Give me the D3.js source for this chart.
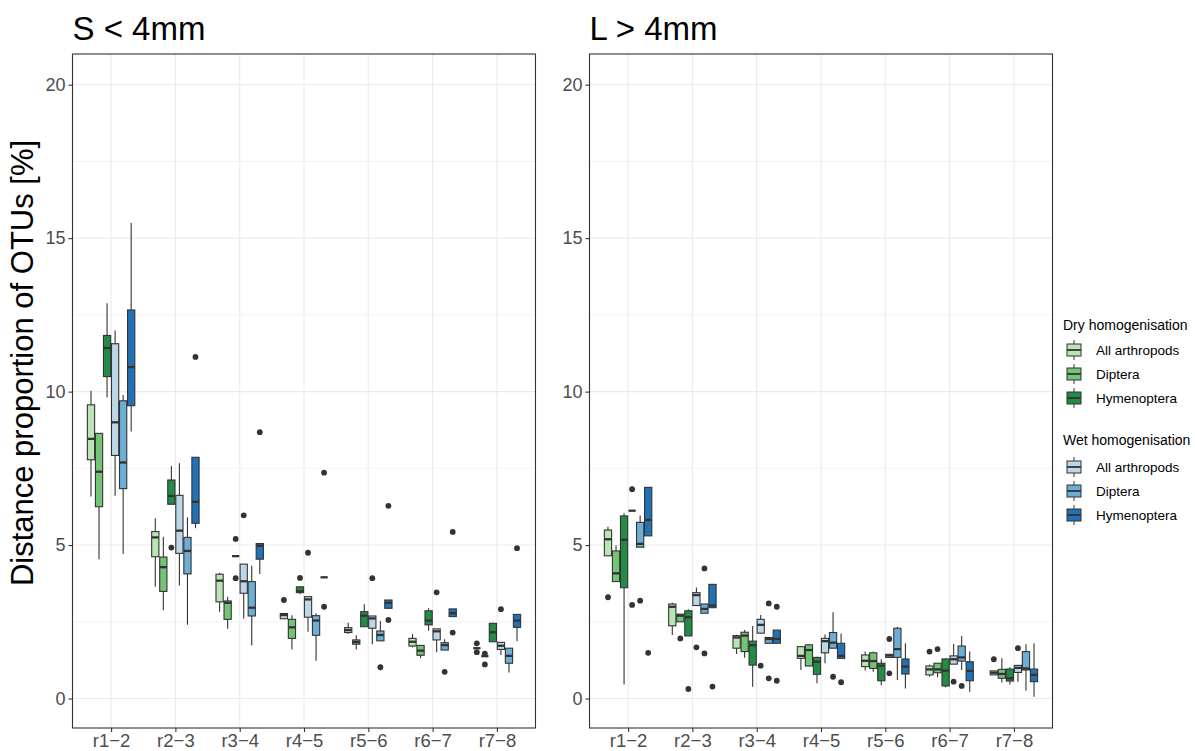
<!DOCTYPE html>
<html lang="en">
<head>
<meta charset="UTF-8">
<title>Distance proportion of OTUs</title>
<script src="https://cdn.jsdelivr.net/npm/d3@7"></script>
<style>
  body { margin: 0; background: #fff; }
  svg { display: block; font-family: 'Liberation Sans', Arial, Helvetica, sans-serif; }
</style>
</head>
<body>
<script>
// categories and groups
const ranges = ['r1−2', 'r2−3', 'r3−4', 'r4−5', 'r5−6', 'r6−7', 'r7−8'];
const groups = ['dryAll', 'dryDip', 'dryHym', 'wetAll', 'wetDip', 'wetHym'];
const groupLabels = ['All arthropods', 'Diptera', 'Hymenoptera', 'All arthropods', 'Diptera', 'Hymenoptera'];
const groupColors = ['#bae4b3', '#74c476', '#238b45', '#bdd7e7', '#6baed6', '#2171b5'];
const legendTitles = ['Dry homogenisation', 'Wet homogenisation'];
const panelTitles = ['S < 4mm', 'L > 4mm'];
const yTicks = [0, 5, 10, 15, 20];
const yMinor = [2.5, 7.5, 12.5, 17.5];

// box stats per range: [lower whisker, q1, median, q3, upper whisker]
// S < 4mm
const smallDryAll = [[6.58, 7.78, 8.46, 9.57, 10.03], [3.64, 4.62, 5.25, 5.44, 5.87], [2.83, 3.15, 3.84, 4.05, 4.10], [2.60, 2.60, 2.72, 2.77, 2.77], [2.10, 2.15, 2.23, 2.31, 2.47], [1.67, 1.71, 1.85, 1.96, 2.10], [1.64, 1.64, 1.64, 1.64, 1.64]];
const smallDryDip = [[4.54, 6.25, 7.39, 8.64, 8.64], [2.88, 3.49, 4.28, 4.61, 5.27], [2.27, 2.58, 3.12, 3.18, 3.32], [1.60, 1.96, 2.32, 2.58, 2.71], [1.60, 1.77, 1.84, 1.91, 2.06], [1.31, 1.41, 1.56, 1.73, 1.73], [1.38, 1.38, 1.38, 1.38, 1.38]];
const smallDryHym = [[9.82, 10.49, 11.42, 11.83, 12.88], [6.33, 6.33, 6.60, 7.12, 7.58], [4.64, 4.64, 4.64, 4.64, 4.64], [3.40, 3.45, 3.50, 3.64, 3.64], [2.34, 2.34, 2.70, 2.83, 3.07], [2.21, 2.40, 2.54, 2.86, 2.94], [1.85, 1.85, 2.16, 2.45, 2.47]];
const smallWetAll = [[6.61, 7.92, 9.00, 11.56, 11.99], [3.68, 4.73, 5.47, 6.62, 7.67], [2.61, 3.43, 3.82, 4.38, 4.38], [2.18, 2.65, 3.23, 3.32, 3.32], [1.77, 2.29, 2.61, 2.69, 2.69], [1.51, 1.91, 2.19, 2.27, 2.27], [1.42, 1.60, 1.72, 1.83, 1.83]];
const smallWetDip = [[4.71, 6.84, 7.69, 9.70, 9.89], [2.40, 4.06, 4.81, 5.25, 5.91], [1.73, 2.69, 2.96, 3.81, 4.33], [1.23, 2.06, 2.54, 2.70, 2.78], [1.88, 1.88, 2.07, 2.20, 2.53], [1.58, 1.58, 1.74, 1.82, 1.93], [0.85, 1.15, 1.39, 1.64, 1.64]];
const smallWetHym = [[8.70, 9.54, 10.80, 12.66, 15.49], [5.55, 5.71, 6.41, 7.86, 7.86], [4.06, 4.54, 4.98, 5.05, 5.05], [3.95, 3.95, 3.95, 3.95, 3.95], [2.94, 2.94, 3.12, 3.21, 3.21], [2.67, 2.67, 2.78, 2.92, 2.92], [1.87, 2.32, 2.54, 2.74, 2.74]];
const smallOutliers = [
  ['dryAll', 'r4−5', 3.21], ['dryAll', 'r7−8', 1.80], ['dryAll', 'r7−8', 1.51],
  ['dryDip', 'r7−8', 1.46], ['dryDip', 'r7−8', 1.11],
  ['dryHym', 'r2−3', 4.92], ['dryHym', 'r3−4', 5.20], ['dryHym', 'r3−4', 3.92], ['dryHym', 'r4−5', 3.93],
  ['wetAll', 'r3−4', 5.97], ['wetAll', 'r4−5', 4.75], ['wetAll', 'r5−6', 3.92], ['wetAll', 'r6−7', 3.46], ['wetAll', 'r7−8', 2.91],
  ['wetDip', 'r5−6', 1.02], ['wetDip', 'r6−7', 0.87],
  ['wetHym', 'r2−3', 11.13], ['wetHym', 'r3−4', 8.68], ['wetHym', 'r4−5', 7.36], ['wetHym', 'r4−5', 2.99],
  ['wetHym', 'r5−6', 6.28], ['wetHym', 'r5−6', 2.56], ['wetHym', 'r6−7', 5.43], ['wetHym', 'r6−7', 2.15], ['wetHym', 'r7−8', 4.90]
];

// L > 4mm
const largeDryAll = [[4.65, 4.65, 5.19, 5.49, 5.60], [2.07, 2.37, 2.99, 3.08, 3.12], [1.45, 1.64, 1.99, 2.05, 2.08], [0.93, 1.31, 1.39, 1.69, 1.71], [0.91, 1.04, 1.23, 1.42, 1.53], [0.71, 0.77, 0.95, 1.06, 1.11], [0.77, 0.77, 0.84, 0.90, 0.90]];
const largeDryDip = [[3.81, 3.81, 4.08, 4.81, 4.99], [2.50, 2.50, 2.70, 2.75, 2.75], [1.33, 1.53, 2.05, 2.16, 2.23], [1.06, 1.06, 1.58, 1.75, 1.78], [0.87, 0.98, 1.22, 1.49, 1.53], [0.69, 0.84, 0.95, 1.15, 1.15], [0.52, 0.66, 0.80, 0.95, 1.31]];
const largeDryHym = [[0.46, 3.61, 5.17, 5.95, 6.04], [2.04, 2.04, 2.65, 2.86, 2.91], [0.38, 1.09, 1.74, 1.87, 2.36], [0.50, 0.79, 1.20, 1.34, 1.36], [0.43, 0.58, 1.07, 1.15, 1.28], [0.37, 0.41, 0.91, 1.29, 1.31], [0.46, 0.57, 0.66, 0.96, 1.02]];
const largeWetAll = [[6.12, 6.12, 6.12, 6.12, 6.12], [3.03, 3.03, 3.37, 3.45, 3.62], [2.13, 2.13, 2.40, 2.58, 2.72], [1.15, 1.49, 1.87, 1.96, 2.09], [1.34, 1.34, 1.40, 1.44, 1.44], [1.12, 1.12, 1.28, 1.39, 1.78], [0.55, 0.85, 1.00, 1.08, 1.08]];
const largeWetDip = [[4.93, 4.93, 5.04, 5.74, 5.96], [2.78, 2.78, 2.92, 3.08, 3.08], [1.80, 1.80, 1.94, 1.99, 1.99], [1.64, 1.64, 1.82, 2.15, 2.81], [0.60, 1.34, 1.61, 2.29, 2.34], [0.93, 1.22, 1.34, 1.71, 2.04], [0.25, 0.93, 0.98, 1.53, 1.77]];
const largeWetHym = [[5.30, 5.30, 5.82, 6.88, 6.88], [2.96, 2.96, 3.03, 3.72, 3.72], [1.80, 1.80, 1.94, 2.23, 2.23], [1.31, 1.31, 1.39, 1.80, 2.12], [0.33, 0.80, 1.04, 1.29, 1.80], [0.22, 0.58, 0.90, 1.20, 1.53], [0.06, 0.55, 0.77, 0.96, 1.80]];
const largeOutliers = [
  ['dryAll', 'r1−2', 3.30], ['dryAll', 'r6−7', 1.53], ['dryAll', 'r7−8', 1.28],
  ['dryDip', 'r2−3', 1.96], ['dryDip', 'r6−7', 1.61],
  ['dryHym', 'r2−3', 0.31],
  ['wetAll', 'r1−2', 6.82], ['wetAll', 'r1−2', 3.05], ['wetAll', 'r2−3', 1.67], ['wetAll', 'r3−4', 1.07],
  ['wetAll', 'r5−6', 1.94], ['wetAll', 'r5−6', 0.82], ['wetAll', 'r6−7', 0.55], ['wetAll', 'r7−8', 1.64],
  ['wetDip', 'r1−2', 3.19], ['wetDip', 'r2−3', 4.24], ['wetDip', 'r2−3', 1.47], ['wetDip', 'r3−4', 3.10],
  ['wetDip', 'r3−4', 0.66], ['wetDip', 'r4−5', 0.71], ['wetDip', 'r6−7', 0.41],
  ['wetHym', 'r1−2', 1.49], ['wetHym', 'r2−3', 0.39], ['wetHym', 'r3−4', 2.99], ['wetHym', 'r3−4', 0.58], ['wetHym', 'r4−5', 0.53]
];

const width = 1195;
const height = 751;
const panelTop = 54, panelBottom = 728;
const panelLefts = [72.5, 589.5];
const panelWidth = 463;
const ink = '#333333';
const grid = '#ebebeb';

const panels = [
  { title: panelTitles[0], stats: [smallDryAll, smallDryDip, smallDryHym, smallWetAll, smallWetDip, smallWetHym], outliers: smallOutliers },
  { title: panelTitles[1], stats: [largeDryAll, largeDryDip, largeDryHym, largeWetAll, largeWetDip, largeWetHym], outliers: largeOutliers }
];

const svg = d3.select('body').append('svg')
  .attr('width', width)
  .attr('height', height);

const y = d3.scaleLinear().domain([-0.96, 21.0]).range([panelBottom, panelTop]);

panels.forEach((p, pi) => {
  const left = panelLefts[pi];
  const x = d3.scalePoint().domain(ranges).range([left, left + panelWidth]).padding(0.6);
  const dodge = d3.scaleBand().domain(groups).range([-0.375 * x.step(), 0.375 * x.step()]);
  const bw = dodge.bandwidth() * 0.9;
  const cx = (g, r) => x(r) + dodge(g) + dodge.bandwidth() / 2;

  const g = svg.append('g');

  // panel background + grid
  g.append('rect').attr('x', left).attr('y', panelTop).attr('width', panelWidth).attr('height', panelBottom - panelTop).attr('fill', '#fff');
  g.selectAll('.minor').data(yMinor).enter().append('line')
    .attr('x1', left).attr('x2', left + panelWidth)
    .attr('y1', d => y(d)).attr('y2', d => y(d))
    .attr('stroke', grid).attr('stroke-width', 0.6);
  g.selectAll('.major').data(yTicks).enter().append('line')
    .attr('x1', left).attr('x2', left + panelWidth)
    .attr('y1', d => y(d)).attr('y2', d => y(d))
    .attr('stroke', grid).attr('stroke-width', 1.1);
  g.selectAll('.vmajor').data(ranges).enter().append('line')
    .attr('x1', d => x(d)).attr('x2', d => x(d))
    .attr('y1', panelTop).attr('y2', panelBottom)
    .attr('stroke', grid).attr('stroke-width', 1.1);

  // boxes
  const boxes = [];
  groups.forEach((gr, gi) => {
    p.stats[gi].forEach((s, ri) => boxes.push({ group: gr, gi: gi, range: ranges[ri], s: s }));
  });

  boxes.forEach(b => {
    const c = cx(b.group, b.range);
    const [lo, q1, med, q3, hi] = b.s;
    const bg = g.append('g');
    bg.append('line').attr('x1', c).attr('x2', c).attr('y1', y(hi)).attr('y2', y(q3))
      .attr('stroke', ink).attr('stroke-width', 1.1);
    bg.append('line').attr('x1', c).attr('x2', c).attr('y1', y(q1)).attr('y2', y(lo))
      .attr('stroke', ink).attr('stroke-width', 1.1);
    bg.append('rect')
      .attr('x', c - bw / 2).attr('width', bw)
      .attr('y', y(q3)).attr('height', Math.max(0, y(q1) - y(q3)))
      .attr('fill', groupColors[b.gi]).attr('stroke', ink).attr('stroke-width', 1.1);
    bg.append('line').attr('x1', c - bw / 2).attr('x2', c + bw / 2).attr('y1', y(med)).attr('y2', y(med))
      .attr('stroke', ink).attr('stroke-width', 2.3);
  });

  g.selectAll('.out').data(p.outliers).enter().append('circle')
    .attr('cx', d => cx(d[0], d[1]))
    .attr('cy', d => y(d[2]))
    .attr('r', 2.9)
    .attr('fill', ink);

  // border
  g.append('rect').attr('x', left).attr('y', panelTop).attr('width', panelWidth).attr('height', panelBottom - panelTop)
    .attr('fill', 'none').attr('stroke', ink).attr('stroke-width', 1.1);

  // axes
  const yAxis = d3.axisLeft(y).tickValues(yTicks).tickSize(4).tickPadding(3);
  const ya = g.append('g').attr('transform', `translate(${left},0)`).call(yAxis);
  const xAxis = d3.axisBottom(x).tickSize(4).tickPadding(1.5);
  const xa = g.append('g').attr('transform', `translate(0,${panelBottom})`).call(xAxis);
  [ya, xa].forEach(a => {
    a.select('.domain').remove();
    a.selectAll('.tick line').attr('stroke', ink).attr('stroke-width', 1.1);
    a.selectAll('.tick text').attr('fill', '#4d4d4d')
      .style('font-family', "'Liberation Sans', Arial, Helvetica, sans-serif");
  });
  ya.selectAll('.tick text').style('font-size', '18px');
  xa.selectAll('.tick text').style('font-size', '18.5px');

  // title
  svg.append('text').attr('x', left).attr('y', 40)
    .style('font-size', '33px').attr('fill', '#000').text(p.title);
});

// y label
svg.append('text')
  .attr('transform', 'translate(33,363) rotate(-90)')
  .attr('text-anchor', 'middle')
  .style('font-size', '31px').attr('fill', '#000')
  .text('Distance proportion of OTUs [%]');

// legend
const legendX = 1063;
const legendBlocks = [
  { title: legendTitles[0], titleY: 325, items: [0, 1, 2], itemY: [350, 374, 398] },
  { title: legendTitles[1], titleY: 440, items: [3, 4, 5], itemY: [467, 491, 515] }
];
legendBlocks.forEach(blk => {
  svg.append('text').attr('x', legendX).attr('y', blk.titleY).attr('dy', '0.35em')
    .style('font-size', '14px').attr('fill', '#000').text(blk.title);
  blk.items.forEach((gi, k) => {
    const cy = blk.itemY[k];
    const kx = legendX + 11;
    const kg = svg.append('g');
    kg.append('line').attr('x1', kx).attr('x2', kx).attr('y1', cy - 10).attr('y2', cy + 10)
      .attr('stroke', ink).attr('stroke-width', 1);
    kg.append('rect').attr('x', kx - 7).attr('y', cy - 6).attr('width', 14).attr('height', 12)
      .attr('fill', groupColors[gi]).attr('stroke', ink).attr('stroke-width', 1);
    kg.append('line').attr('x1', kx - 7).attr('x2', kx + 7).attr('y1', cy).attr('y2', cy)
      .attr('stroke', ink).attr('stroke-width', 1.8);
    svg.append('text').attr('x', legendX + 33).attr('y', cy).attr('dy', '0.35em')
      .style('font-size', '13.5px').attr('fill', '#000').text(groupLabels[gi]);
  });
});
</script>
</body>
</html>
